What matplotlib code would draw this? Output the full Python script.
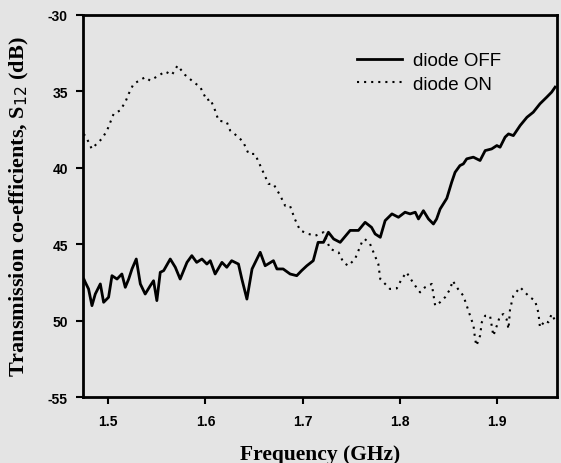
import matplotlib
matplotlib.use("Agg")
import matplotlib.pyplot as plt

# diode OFF (solid)
off_f = [1.4750, 1.4763, 1.4797, 1.4832, 1.4866, 1.4918, 1.4952, 1.5003, 1.5038, 1.5090, 1.5140,
         1.5175, 1.5210, 1.5244, 1.5288, 1.5330, 1.5380, 1.5432, 1.5466, 1.5500, 1.5535, 1.5570,
         1.5638, 1.5690, 1.5740, 1.5810, 1.5860, 1.5910, 1.5964, 1.6015, 1.6050, 1.6100, 1.6170,
         1.6220, 1.6270, 1.6340, 1.6375, 1.6427, 1.6480, 1.6564, 1.6615, 1.6700, 1.6736, 1.6800,
         1.6872, 1.6940, 1.6990, 1.7044, 1.7110, 1.7160, 1.7215, 1.7266, 1.7320, 1.7387, 1.7490,
         1.7575, 1.7644, 1.7710, 1.7747, 1.7800, 1.7850, 1.7920, 1.7987, 1.8055, 1.8107, 1.8160,
         1.8193, 1.8244, 1.8296, 1.8347, 1.8380, 1.8416, 1.8485, 1.8535, 1.8570, 1.8620, 1.8655,
         1.8690, 1.8758, 1.8827, 1.8880, 1.8947, 1.9000, 1.9033, 1.9085, 1.9120, 1.9170, 1.9240,
         1.9310, 1.9375, 1.9444, 1.9513, 1.9564, 1.9600]
off_db = [-47.3, -47.49, -47.93, -49.02, -48.26, -47.60, -48.80, -48.47, -47.06, -47.28, -46.95,
          -47.82, -47.28, -46.62, -45.97, -47.60, -48.26, -47.72, -47.39, -48.69, -46.84, -46.73,
          -45.97, -46.51, -47.28, -46.19, -45.75, -46.19, -45.97, -46.30, -46.08, -46.95, -46.19,
          -46.51, -46.08, -46.30, -47.28, -48.59, -46.62, -45.53, -46.41, -46.08, -46.62, -46.62,
          -46.95, -47.06, -46.73, -46.41, -46.08, -44.88, -44.88, -44.22, -44.66, -44.88, -44.10,
          -44.10, -43.57, -43.90, -44.33, -44.55, -43.46, -43.02, -43.24, -42.91, -43.02, -42.91,
          -43.35, -42.81, -43.35, -43.68, -43.35, -42.70, -42.00, -40.95, -40.30, -39.86, -39.75,
          -39.42, -39.31, -39.53, -38.88, -38.77, -38.55, -38.66, -38.00, -37.79, -37.90, -37.24,
          -36.70, -36.37, -35.82, -35.39, -35.06, -34.73]

# diode ON (dotted)
on_f = [1.4748, 1.4780, 1.4830, 1.4880, 1.4935, 1.4987, 1.5055, 1.5120, 1.5175, 1.5210, 1.5260,
        1.5380, 1.5430, 1.5520, 1.5586, 1.5655, 1.5713, 1.5790, 1.5878, 1.5947, 1.6015, 1.6050,
        1.6100, 1.6135, 1.6220, 1.6255, 1.6340, 1.6390, 1.6445, 1.6510, 1.6580, 1.6650, 1.6700,
        1.6770, 1.6820, 1.6870, 1.6920, 1.6975, 1.7060, 1.7130, 1.7215, 1.7284, 1.7370, 1.7420,
        1.7470, 1.7540, 1.7610, 1.7640, 1.7695, 1.7730, 1.7780, 1.7800, 1.7850, 1.7900, 1.7970,
        1.8020, 1.8070, 1.8125, 1.8160, 1.8210, 1.8260, 1.8330, 1.8365, 1.8415, 1.8467, 1.8520,
        1.8545, 1.8600, 1.8655, 1.8690, 1.8725, 1.8760, 1.8776, 1.8790, 1.8827, 1.8845, 1.8880,
        1.8930, 1.8947, 1.8964, 1.9000, 1.9033, 1.9067, 1.9100, 1.9120, 1.9136, 1.9170, 1.9240,
        1.9290, 1.9340, 1.9393, 1.9427, 1.9444, 1.9496, 1.9530, 1.9564, 1.9600]
on_db = [-37.79, -38.10, -38.77, -38.44, -38.10, -37.57, -36.48, -36.26, -35.72, -35.17, -34.52,
         -34.08, -34.30, -33.97, -33.71, -33.93, -33.32, -33.93, -34.40, -34.73, -35.60, -35.50,
         -36.26, -36.92, -37.02, -37.57, -38.00, -38.33, -39.10, -39.10, -40.08, -41.06, -41.06,
         -41.82, -42.48, -42.48, -43.35, -44.10, -44.33, -44.45, -44.22, -45.31, -45.53, -46.19,
         -46.41, -45.97, -44.88, -44.66, -44.99, -45.53, -46.30, -47.28, -47.60, -47.93, -47.89,
         -47.28, -46.84, -47.39, -47.72, -48.15, -47.82, -47.60, -49.02, -48.80, -48.47, -47.93,
         -47.39, -47.93, -48.37, -49.02, -49.68, -50.33, -51.20, -51.64, -50.99, -50.11, -49.68,
         -49.68, -50.33, -50.99, -50.33, -49.68, -49.57, -49.90, -50.55, -49.24, -48.37, -47.82,
         -48.15, -48.47, -48.69, -49.46, -50.44, -50.00, -50.11, -49.57, -50.00]

x_ticks = [1.5, 1.6, 1.7, 1.8, 1.9]
x_tick_labels = ["1.5", "1.6", "1.7", "1.8", "1.9"]
y_ticks = [-30, -35, -40, -45, -50, -55]
y_tick_labels = ["-30", "35", "40", "45", "50", "-55"]

bg = "#e4e4e4"
fig = plt.figure(figsize=(5.61, 4.64), dpi=100, facecolor=bg)
ax = fig.add_axes([0.148, 0.142, 0.845, 0.824], facecolor=bg)

ax.plot(off_f, off_db, color="black", lw=2.0, label="diode OFF")
ax.plot(on_f, on_db, color="black", lw=1.5, linestyle=(0, (1, 2.4)), label="diode ON")

ax.set_xlim(1.474, 1.962)
ax.set_ylim(-55, -30)
ax.set_xticks(x_ticks)
ax.set_xticklabels(x_tick_labels, fontfamily="Liberation Sans", fontweight="bold", fontsize=10)
ax.set_yticks(y_ticks)
ax.set_yticklabels(y_tick_labels, fontfamily="Liberation Sans", fontweight="bold", fontsize=10)
ax.tick_params(axis="x", direction="out", length=5, width=1.5, color="black", pad=7)
ax.tick_params(axis="y", direction="out", length=5, width=1.5, color="black", pad=6)
for s in ax.spines.values():
    s.set_linewidth(2.0)

ax.set_xlabel("Frequency (GHz)", fontfamily="Liberation Serif", fontweight="bold", fontsize=15.5, labelpad=12)
ax.set_ylabel("Transmission co-efficients, S$_{12}$ (dB)", fontfamily="Liberation Serif",
              fontweight="bold", fontsize=16, labelpad=12)

leg = ax.legend(loc="upper left", bbox_to_anchor=(0.578, 0.902), frameon=False,
                prop={"family": "Liberation Sans", "size": 13.5}, handlelength=2.4,
                handletextpad=0.6, labelspacing=0.33, borderpad=0, borderaxespad=0)

fig.savefig("out.png", dpi=100, facecolor=bg)
